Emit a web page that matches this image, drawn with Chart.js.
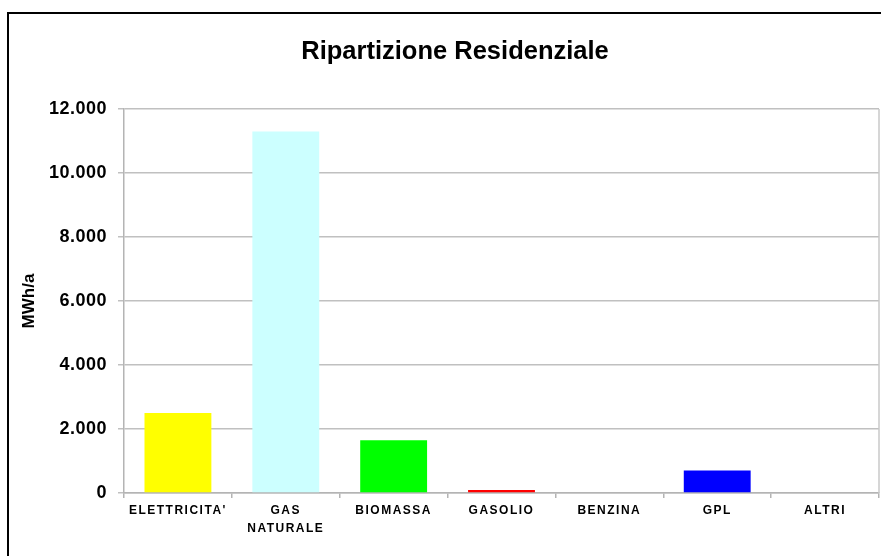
<!DOCTYPE html>
<html>
<head>
<meta charset="utf-8">
<script src="https://cdn.jsdelivr.net/npm/chart.js@4.4.1/dist/chart.umd.min.js"></script>
<style>
  html, body { margin: 0; padding: 0; background: #fff; overflow: hidden; }
  #frame { position: absolute; left: 7px; top: 12px; border-top: 2px solid #000; border-left: 2px solid #000; width: 892px; height: 545px; }
  canvas { display: block; }
</style>
</head>
<body>
<div id="frame"><canvas id="c" width="892" height="545"></canvas></div>
<script>
const categories = ["ELETTRICITA'", ["GAS", "NATURALE"], "BIOMASSA", "GASOLIO", "BENZINA", "GPL", "ALTRI"];
const values = [2500, 11300, 1650, 90, 0, 700, 0];
const barColors = ["#FFFF00", "#CCFFFF", "#00FF00", "#FF0000", "#FF00FF", "#0000FF", "#808080"];
const yTickValues = [0, 2000, 4000, 6000, 8000, 10000, 12000];
const chartTitle = "Ripartizione Residenziale";
const yTitle = "MWh/a";

const FONT = "'Liberation Sans', Arial, sans-serif";

const spacingPlugin = {
  id: 'spacing',
  beforeDraw(chart) {
    const wrap = (scale, ls) => {
      if (!scale || scale._lsWrapped) return;
      const orig = scale.drawLabels;
      scale.drawLabels = function (ca) {
        const ctx = this.ctx;
        ctx.save();
        ctx.letterSpacing = ls;
        orig.call(this, ca);
        ctx.restore();
      };
      scale._lsWrapped = true;
    };
    wrap(chart.scales.x, '1.5px');
    wrap(chart.scales.y, '0.5px');
  },
  afterDatasetsDraw(chart) {
    const { ctx, chartArea } = chart;
    ctx.save();
    ctx.strokeStyle = '#c8c8c8';
    ctx.lineWidth = 1.5;
    ctx.beginPath();
    ctx.moveTo(chartArea.right, chartArea.top);
    ctx.lineTo(chartArea.right, chartArea.bottom);
    ctx.stroke();
    ctx.restore();
  }
};

new Chart(document.getElementById('c'), {
  type: 'bar',
  data: {
    labels: categories,
    datasets: [{
      data: values,
      backgroundColor: barColors,
      borderWidth: 0,
      categoryPercentage: 1,
      barPercentage: 0.62
    }]
  },
  options: {
    responsive: false,
    animation: false,
    devicePixelRatio: 1,
    layout: { padding: 0 },
    plugins: {
      legend: { display: false },
      tooltip: { enabled: false },
      title: {
        display: true,
        text: chartTitle,
        color: '#000',
        font: { family: FONT, size: 25.5, weight: 'bold', lineHeight: 1.2 },
        padding: { top: 23, bottom: 41.4 }
      }
    },
    scales: {
      x: {
        afterFit(s) { s.height = 66; },
        grid: { display: true, drawOnChartArea: false, offset: true, tickLength: 5, color: '#b4b4b4', lineWidth: 1.5 },
        border: { display: true, color: '#b4b4b4', width: 1.5 },
        ticks: {
          color: '#000',
          padding: 4,
          maxRotation: 0,
          autoSkip: false,
          font: { family: FONT, size: 12, weight: 'bold', lineHeight: 1.5 }
        }
      },
      y: {
        min: 0,
        max: 12000,
        afterFit(s) { s.width = 115; },
        afterBuildTicks(s) { s.ticks = yTickValues.map(v => ({ value: v })); },
        grid: { color: '#c0c0c0', lineWidth: 1.5, tickLength: 6 },
        border: { display: true, color: '#b4b4b4', width: 1.5 },
        title: {
          display: true,
          text: yTitle,
          color: '#000',
          font: { family: FONT, size: 17, weight: 'bold', lineHeight: 1.2 },
          padding: { top: 10, bottom: 0 }
        },
        ticks: {
          color: '#000',
          padding: 11,
          font: { family: FONT, size: 18, weight: 'bold' },
          callback(v) { return Number(v).toLocaleString('it-IT').replace(/\s/g, '.'); }
        }
      },
      yRightSpace: {
        type: 'linear',
        position: 'right',
        display: true,
        afterFit(s) { s.width = 22; },
        grid: { display: false },
        border: { display: false },
        ticks: { display: false }
      }
    }
  },
  plugins: [spacingPlugin]
});
</script>
</body>
</html>
